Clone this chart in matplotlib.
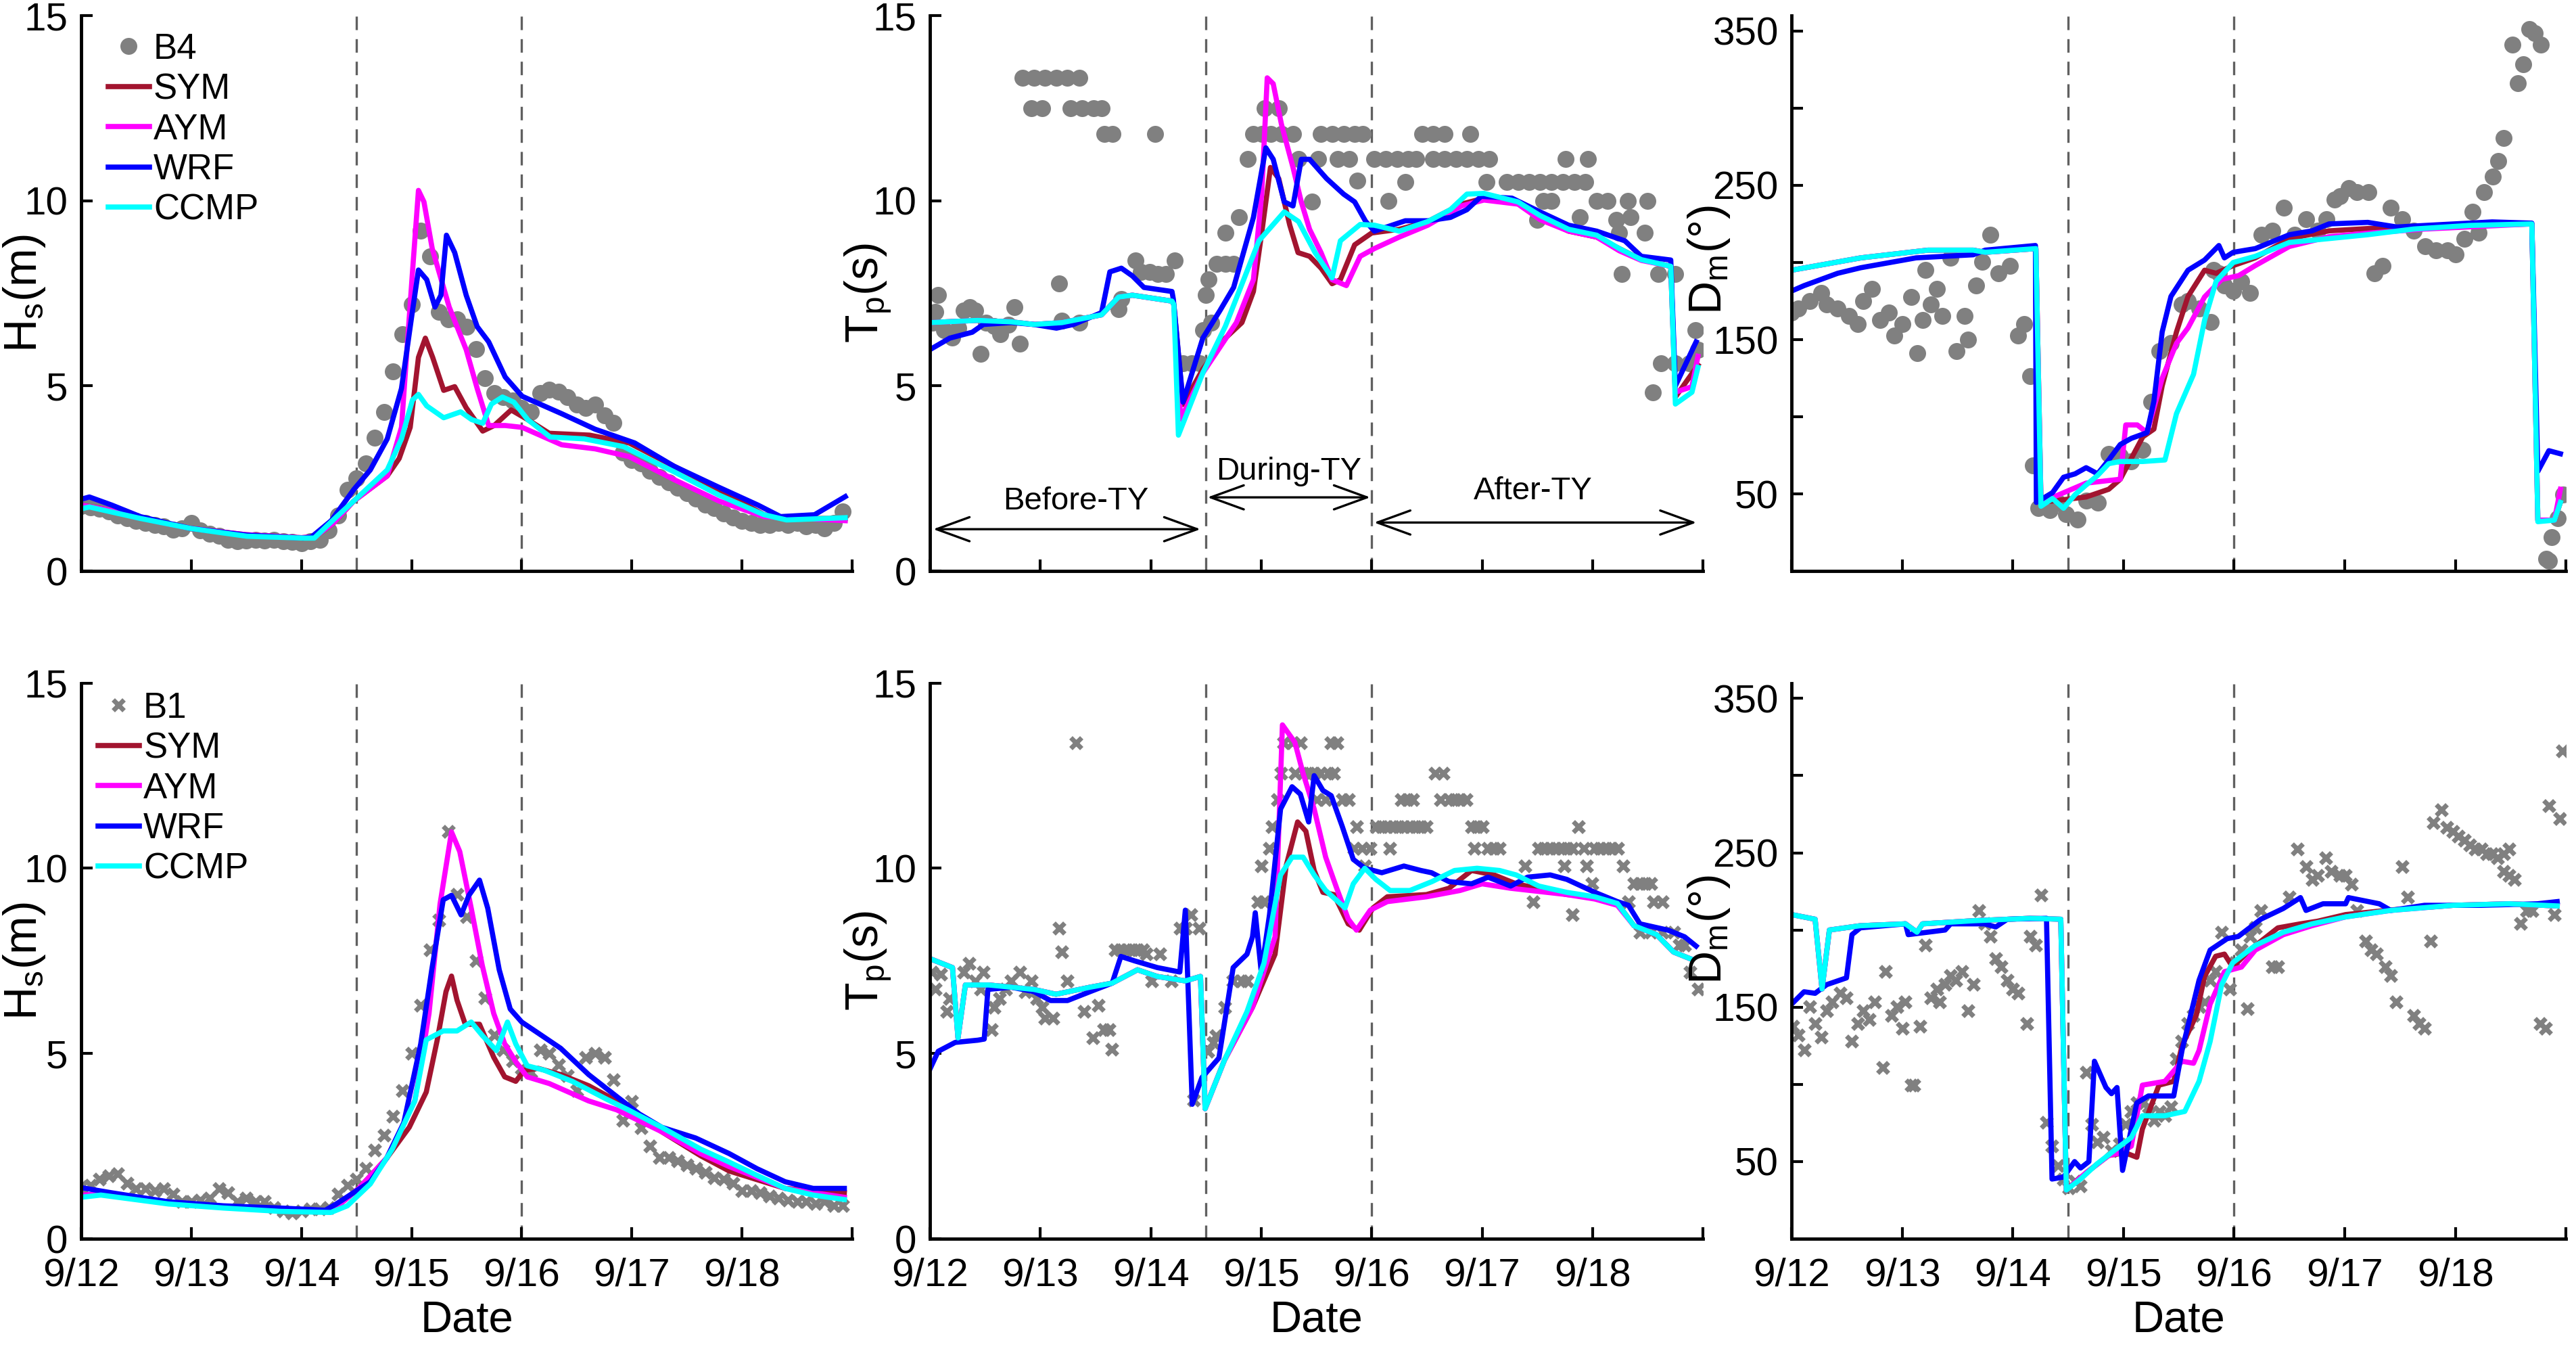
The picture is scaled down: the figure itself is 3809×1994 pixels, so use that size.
import numpy as np
import matplotlib.pyplot as plt

plt.rcParams['font.family'] = ['Liberation Sans', 'DejaVu Sans']
plt.rcParams['mathtext.default'] = 'regular'

# time axis: hours after 9/12 00:00
day_ticks = [0, 24, 48, 72, 96, 120, 144, 168]
day_labels = ['9/12', '9/13', '9/14', '9/15', '9/16', '9/17', '9/18', '']
ty_lines = [60, 96]  # typhoon start / end

c_obs = '#808080'
c_sym = '#A2142F'
c_aym = '#FF00FF'
c_wrf = '#0000FF'
c_ccmp = '#00FFFF'

## ---------------- B4 : Hs ----------------
hs_b4 = [1.75, 1.72, 1.68, 1.6, 1.5, 1.42, 1.35, 1.3, 1.25, 1.2,
         1.12, 1.15, 1.3, 1.1, 1.0, 0.95, 0.85, 0.8, 0.82, 0.85,
         0.82, 0.85, 0.8, 0.78, 0.75, 0.8, 0.85, 1.1, 1.5, 2.2,
         2.5, 2.9, 3.6, 4.3, 5.4, 6.4, 7.2, 9.2, 8.5, 7.0,
         6.8, 6.8, 6.6, 6.0, 5.2, 4.8, 4.7, 4.6, 4.4, 4.3,
         4.8, 4.9, 4.85, 4.7, 4.5, 4.4, 4.5, 4.2, 4.0, 3.2,
         3.0, 2.9, 2.7, 2.55, 2.4, 2.25, 2.1, 1.95, 1.8, 1.7,
         1.55, 1.45, 1.35, 1.3, 1.25, 1.25, 1.3, 1.25, 1.3, 1.2,
         1.25, 1.15, 1.3, 1.6]
hs_b4_t = np.arange(0, 168, 2)

hs4_sym_t = [0, 6, 12, 24, 36, 48, 51, 55, 59.4, 66.7, 69.3, 71.7, 73.5, 75, 76.6, 79, 81.4, 83.9, 87.5, 90,
             93.7, 97.3, 102, 110.8, 119.4, 129.2, 139, 148.8, 153.7, 166.5]
hs4_sym = [1.78, 1.65, 1.45, 1.15, 0.98, 0.9, 0.93, 1.3, 1.89, 2.57, 3.04, 3.88, 5.77, 6.29, 5.77, 4.88, 4.98, 4.41,
           3.78, 3.93, 4.35, 4.09, 3.72, 3.67, 3.46, 2.83, 2.2, 1.52, 1.42, 1.42]
hs4_aym_t = [0, 6, 12, 24, 36, 48, 51, 55, 59.4, 66.7, 69.8, 72.2, 73.5, 74.7, 76.5, 80.2, 83.9, 86.3, 88.8, 92.4,
             96.1, 104.7, 112, 119.4, 129.2, 139, 148.8, 166.5]
hs4_aym = [1.78, 1.65, 1.45, 1.15, 0.98, 0.9, 0.93, 1.3, 1.89, 2.57, 3.88, 8.08, 10.28, 9.97, 8.71, 7.13, 5.98, 4.93,
           3.93, 3.93, 3.88, 3.41, 3.3, 3.09, 2.47, 1.89, 1.47, 1.36]
hs4_wrf_t = [0, 1.8, 6.7, 12.9, 23.9, 36, 48.4, 50.2, 54.5, 59.4, 63, 66.7, 69.8, 72.2, 73.5, 75.3, 77.1, 78.4, 79.6,
             81.4, 83.9, 86.3, 88.8, 92.4, 96.1, 104.7, 112, 120.6, 129.2, 139, 147.5, 152.4, 159.8, 166.5]
hs4_wrf = [1.94, 2.0, 1.78, 1.47, 1.15, 0.97, 0.89, 0.92, 1.36, 2.2, 2.73, 3.57, 4.93, 7.03, 8.13, 7.87, 7.13, 7.45,
           9.07, 8.6, 7.45, 6.6, 6.19, 5.24, 4.72, 4.25, 3.83, 3.46, 2.83, 2.26, 1.78, 1.47, 1.52, 2.01]
hs4_ccmp_t = [0, 1.8, 12.9, 23.9, 36.1, 48.4, 50.8, 55.7, 59.4, 66.7, 69.8, 72.2, 73.5, 75.3, 79, 82.7, 85.1, 87.5,
              89.4, 91.8, 94.3, 97.3, 102.2, 109.6, 118.2, 129.2, 139, 148.8, 153.7, 166.5]
hs4_ccmp = [1.68, 1.73, 1.42, 1.15, 0.94, 0.89, 0.89, 1.47, 1.89, 2.73, 3.57, 4.62, 4.77, 4.46, 4.14, 4.3, 4.09, 3.99,
            4.51, 4.7, 4.56, 4.09, 3.62, 3.57, 3.36, 2.68, 2.05, 1.52, 1.38, 1.44]

## ---------------- B4 : Tp ----------------
tp_b4_t = [0, 0.6, 1.2, 1.8, 3.1, 4.9, 6.1, 7.3, 8.6, 9.8, 11, 12.2, 14, 15.3, 17, 18.3, 19.6,
           20.2, 22.6, 25, 27.5, 29.9, 32.4, 22, 24.4, 30.6, 33, 35.5, 37.3, 37.9, 39.7, 48.9,
           28.1, 28.7, 32.4, 41, 41.6, 44.6, 45.8, 47.7, 49.5, 51.3, 53.2,
           55, 56.8, 58.7, 59.3, 59.9, 60.5,
           61.1, 62.3, 64.2, 66, 64.2, 67.2, 69.1, 70.3, 72.1, 74, 76.4, 78.9, 72.7, 75.8, 80.1, 83.1,
           85, 87.4, 89.9, 92.3, 94.1, 84.4, 88.6, 91.1, 92.9,
           96.6, 99, 101.5, 103.9, 105.7, 99.6, 103.3, 107, 109.4, 111.9, 117.4, 109.4, 111.9, 114.3,
           116.7, 119.2, 121.6, 121, 125.3, 127.8, 130.2, 132.6, 135.1, 137.5, 140, 142.4, 138.1, 143,
           132, 133.3, 135.1, 141.2, 144.9, 147.3, 149.1, 149.8, 151.6, 152.2, 155.9, 155.3,
           150.4, 158.3, 162, 157.1, 158.9, 162, 165, 166.9, 166.3]
tp_b4 = [6.9, 6.7, 7.0, 7.45, 6.5, 6.3, 6.56, 7.03, 7.13, 7.03, 5.87, 6.71, 6.61, 6.4, 6.66, 7.13, 6.14,
         13.32, 13.32, 13.32, 13.32, 13.32, 13.32, 12.5, 12.5, 12.5, 12.5, 12.5, 12.5, 11.8, 11.8, 11.8,
         7.76, 6.77, 6.71, 7.08, 7.34, 8.39, 8.08, 8.08, 8.03, 8.03, 8.39,
         5.61, 5.61, 5.61, 6.5, 7.45, 7.87,
         6.71, 8.29, 8.29, 8.29, 9.13, 9.55, 11.12, 11.8, 11.8, 11.8, 11.8, 11.8, 12.5, 12.5, 11.12, 9.97,
         11.8, 11.8, 11.8, 11.8, 11.8, 11.12, 11.12, 11.12, 10.54,
         11.12, 11.12, 11.12, 11.12, 11.12, 9.99, 10.51, 11.8, 11.8, 11.8, 11.8, 11.12, 11.12, 11.12,
         11.12, 11.12, 11.12, 10.51, 10.51, 10.51, 10.51, 10.51, 10.51, 10.51, 10.51, 10.51, 11.12, 11.12,
         9.49, 9.99, 9.99, 9.55, 9.99, 9.99, 9.49, 9.13, 9.99, 9.55, 9.99, 9.13,
         8.03, 8.03, 8.03, 4.83, 5.61, 5.61, 5.61, 5.98, 6.5]

tp4_sym_t = [0, 10.4, 17.7, 22.6, 28.7, 37.3, 41, 44, 52.6, 53, 55, 59.3, 64.2, 67.8, 70.3, 72.1, 74, 75.8, 78.2,
             80, 82.5, 85, 87.4, 89.2, 92.3, 96, 102, 108.2, 115.5, 120.4, 127.8, 132.6, 138.8, 144.9, 149.8,
             154.6, 161, 162, 166.9]
tp4_sym = [6.71, 6.77, 6.73, 6.66, 6.71, 6.92, 7.4, 7.45, 7.29, 7.2, 4.5, 5.45, 6.29, 6.71, 7.55, 9.13, 10.9, 10.6,
           9.34, 8.6, 8.5, 8.18, 7.76, 7.87, 8.81, 9.13, 9.23, 9.44, 9.91, 10.07, 9.97, 9.55, 9.18, 9.02, 8.71,
           8.41, 8.23, 4.7, 5.56]
tp4_aym_t = [0, 10.4, 17.7, 22.6, 28.7, 37.3, 41, 44, 52.6, 53, 54.5, 59.3, 66.6, 70.3, 72.1, 73.3, 74.6, 76.4,
             78.9, 80.7, 82.5, 85, 87.4, 90.5, 93.5, 96.6, 102, 108.2, 115.5, 120.4, 127.8, 132.6, 138.8, 144.9,
             149.8, 154.6, 161, 162, 165.6, 166.9]
tp4_aym = [6.71, 6.77, 6.73, 6.66, 6.71, 6.92, 7.4, 7.45, 7.29, 7.2, 4.1, 5.35, 6.71, 7.87, 10.18, 13.32, 13.16,
           12.06, 10.9, 9.97, 9.23, 8.6, 7.87, 7.71, 8.5, 8.71, 9.02, 9.34, 9.86, 10.02, 9.91, 9.49, 9.18, 9.02,
           8.65, 8.39, 8.23, 4.83, 4.98, 5.8]
tp4_wrf_t = [0, 4.3, 9.2, 11.6, 17.7, 22.6, 27.5, 31.2, 37.3, 39.1, 41.6, 44, 46.5, 52.6, 52.9, 55, 59.3, 63, 66,
             70.3, 73, 74.6, 77, 78.9, 80.7, 82.5, 86.2, 89.9, 92.3, 94.7, 96.6, 103.3, 108.2, 113.1, 116.7, 119.8,
             126.5, 132.6, 138.8, 144.9, 151, 154.6, 161, 162, 166.5]
tp4_wrf = [5.98, 6.29, 6.45, 6.66, 6.71, 6.66, 6.56, 6.66, 6.98, 8.08, 8.18, 7.97, 7.66, 7.55, 7.34, 4.56, 6.29,
           7.03, 7.66, 9.55, 11.43, 11.12, 9.97, 9.86, 11.12, 11.12, 10.6, 10.18, 9.97, 9.44, 9.18, 9.46, 9.46,
           9.55, 9.76, 10.12, 10.07, 9.7, 9.34, 9.18, 8.92, 8.5, 8.4, 5.0, 6.19]
tp4_ccmp_t = [0, 10.4, 17.7, 22.6, 28.7, 37.3, 41, 44, 52.6, 53, 54, 59.3, 64.2, 71.5, 77, 80.1, 83.7, 87.4, 89.2,
              93.5, 96.6, 102, 108.2, 113.1, 116.7, 120.4, 127.8, 132.6, 138.8, 144.9, 149.8, 154.6, 161, 162,
              165.6, 166.9]
tp4_ccmp = [6.71, 6.77, 6.73, 6.66, 6.71, 6.92, 7.4, 7.45, 7.29, 7.2, 3.67, 5.35, 6.61, 8.92, 9.7, 9.44, 8.6, 7.92,
            8.92, 9.36, 9.34, 9.18, 9.44, 9.76, 10.18, 10.2, 9.97, 9.6, 9.23, 9.07, 8.71, 8.41, 8.23, 4.51, 4.83, 5.5]

## ---------------- B4 : Dm ----------------
dm_b4_t = [0, 1.5, 3.9, 6.4, 7.6, 10, 12.5, 14.3, 15.6, 17.4, 19.2, 21.1, 22.3, 24.1, 26, 27.2, 28.4, 29, 30.2,
           31.5, 32.7, 34.5, 35.8, 37.6, 38.2, 40, 41.3, 43.1, 44.9, 47.4, 49.2, 50.4, 51.7, 52.3, 53.5, 56,
           57.8, 59.6, 62.1, 63.9, 66.4, 68.8, 71.3, 73.7, 76.2, 78, 79.8, 82.3, 84.7, 86, 88.4, 90.9, 91.5,
           92.7, 93.9, 95.8, 97.6, 99.4, 101.9, 104.3, 106.8, 109.2, 111.7, 114.1, 116, 117.8, 119, 120.9,
           122.7, 125.1, 126.4, 128.2, 130, 132.5, 134.9, 137.4, 139.8, 142.3, 144.1, 146, 147.8, 149, 150.2,
           152.1, 153.3, 154.5, 156.4, 157.6, 158.8, 160, 161.3, 162.5, 163.7, 164.9, 166.2, 167.4, 164.3]
dm_b4 = [167.7, 170.2, 175.2, 180.2, 172.7, 170.2, 165.2, 160.1, 175.2, 182.8, 162.6, 167.7, 152.6, 160.1, 177.7,
         141.3, 162.6, 195.3, 172.7, 182.8, 165.2, 202.9, 142.5, 165.2, 150.1, 185.3, 200.4, 218, 192.8, 197.9,
         152.6, 160.1, 126.2, 68.4, 40.7, 39.4, 44.5, 36.9, 33.2, 45.7, 44.5, 75.9, 74.6, 70.9, 78.4, 109.8,
         142.5, 147.6, 172.7, 175.2, 170.2, 161.4, 195.3, 192.8, 185.3, 181.5, 187.8, 180.2, 218, 220.5, 235.6,
         218, 228, 220.5, 228, 240.6, 243.1, 248.1, 245.6, 245.6, 192.8, 197.9, 235.6, 228, 220.5, 210.4, 207.9,
         207.9, 205.4, 215.5, 233.1, 219.2, 245.6, 255.7, 265.7, 280.8, 341.2, 316, 328.6, 351.2, 348.7, 341.2,
         8, 21.8, 34.4, 49.5, 6.8]

dm4_sym_t = [0, 15, 29.6, 39.4, 42, 53, 54.1, 63.9, 68.8, 71.3, 76.2, 78.6, 80.4, 83.5, 86, 89.6, 92.1, 95.8,
             100.6, 108, 116.6, 125, 137.4, 160.6, 161.9, 165.5, 166.8]
dm4_sym = [195, 203, 208, 208, 206.6, 209, 44.5, 48, 53, 59.5, 87, 92, 120, 155, 178, 195, 193, 198, 203, 215.5,
           220.5, 222, 223, 225, 33, 33, 44.5]
dm4_aym_t = [0, 15, 29.6, 39.4, 42, 53, 54.1, 63.9, 71.3, 72.5, 75, 77.1, 80.4, 83.5, 86, 89.6, 93.3, 97, 100.6,
             108, 116.6, 125, 137.4, 160.6, 161.9, 165.5, 166.8]
dm4_aym = [195, 203, 208, 208, 206.6, 209, 44.5, 57, 59.5, 94.7, 94.7, 89.7, 125, 147.6, 157.6, 177.7, 189, 191.5,
           198, 210.4, 216.7, 219, 221.7, 225, 33, 33, 53]
dm4_wrf_t = [0, 2.7, 10, 15, 27, 39.4, 42, 52.9, 53.1, 56.6, 59, 61.5, 63.9, 66.4, 68.8, 71.3, 73.7, 77.1, 78.6,
             80.4, 82.3, 86, 89.6, 92.7, 93.9, 95.8, 100.6, 108, 112.9, 116.6, 125, 131.3, 137.4, 152, 160.6,
             161.9, 164.3, 166.8]
dm4_wrf = [181.5, 185, 193, 196.6, 203, 205, 208, 211, 44.5, 50.8, 60.8, 63, 67, 63, 72, 82, 86, 89.7, 110, 155,
           178, 195, 201.6, 211, 203, 206.6, 209, 218, 220.5, 225, 226, 223, 224, 226.3, 225.5, 64.6, 78, 76]
dm4_ccmp_t = [0, 15, 29.6, 39.4, 42, 53, 54.1, 56.6, 59, 61.5, 63.9, 66.4, 68.8, 71.3, 76.2, 81, 83.5, 87.2, 89.6,
              92.1, 95.8, 100.6, 108, 116.6, 125, 135, 147, 160.6, 161.9, 165.5, 166.8]
dm4_ccmp = [195, 203, 208, 208, 206.6, 209, 42, 47, 40.7, 49.5, 55.8, 62, 69.6, 71, 71, 72, 102, 127.5, 162.6,
            187.8, 200, 204, 213, 215.5, 218, 221.7, 224, 225, 32, 33, 44.5]

## ---------------- B1 : Hs ----------------
hs_b1 = [1.4, 1.45, 1.6, 1.7, 1.75, 1.5, 1.35, 1.35, 1.3, 1.35,
         1.2, 1.0, 1.0, 1.05, 1.1, 1.35, 1.25, 1.0, 1.1, 1.0,
         1.0, 0.85, 0.75, 0.7, 0.75, 0.8, 0.8, 0.85, 1.2, 1.45,
         1.6, 1.9, 2.4, 2.8, 3.3, 4.0, 5.0, 6.3, 7.8, 8.6,
         11.0, 9.3, 8.7, 7.5, 6.5, 5.5, 5.1, 4.8, 4.6, 4.5,
         5.1, 5.0, 4.7, 4.4, 4.0, 4.9, 5.0, 4.9, 4.3, 3.2,
         3.7, 3.0, 2.5, 2.2, 2.2, 2.1, 2.0, 1.9, 1.8, 1.65,
         1.6, 1.5, 1.3, 1.3, 1.25, 1.15, 1.1, 1.05, 1.0, 1.0,
         0.95, 1.0, 0.9, 0.9]
hs_b1_t = np.arange(0, 168, 2)

hs1_sym_t = [0, 4.3, 19, 31, 43.4, 54.4, 60.5, 66.6, 71.5, 75.2, 77.6, 79.5, 80.7, 81.9, 83.7, 86.8, 89.9, 92.3,
             94.7, 96.6, 99.6, 104.5, 110.6, 116.7, 126.5, 135, 141.2, 153.4, 166.3]
hs1_sym = [1.18, 1.2, 0.96, 0.85, 0.76, 0.73, 1.36, 2.18, 3.01, 3.96, 5.37, 6.67, 7.09, 6.44, 5.79, 5.79, 4.9, 4.37,
           4.25, 4.55, 4.6, 4.43, 4.13, 3.72, 2.89, 2.24, 1.83, 1.36, 1.24]
hs1_aym_t = [0, 4.3, 19, 31, 43.4, 54.4, 60.5, 66.6, 72.7, 75.8, 78.2, 80.7, 82.5, 85, 87.4, 89.9, 92.3, 94.7,
             97.2, 102, 110.6, 116.7, 126.5, 135, 141.2, 153.4, 166.3]
hs1_aym = [1.18, 1.2, 0.96, 0.85, 0.76, 0.73, 1.36, 2.18, 3.72, 6.08, 9.03, 10.98, 10.45, 8.92, 7.38, 6.08, 5.26,
           4.78, 4.37, 4.19, 3.72, 3.48, 2.89, 2.3, 1.95, 1.36, 1.12]
hs1_wrf_t = [0, 6.7, 19, 31, 43.4, 53.2, 55.6, 59.3, 63, 66.6, 70.3, 74, 76.4, 78.9, 80.7, 82.8, 84.5, 86.8, 88.6,
             91.1, 93.5, 96, 99.6, 104.5, 110.6, 116.7, 121.6, 126.5, 133.9, 141.2, 147.3, 153.4, 159.5, 166.3]
hs1_wrf = [1.38, 1.24, 1.0, 0.89, 0.83, 0.77, 0.94, 1.24, 1.54, 2.18, 3.13, 5.26, 7.26, 9.15, 9.27, 8.74, 9.27,
           9.68, 8.92, 7.26, 6.2, 5.85, 5.55, 5.14, 4.43, 3.84, 3.37, 3.01, 2.72, 2.3, 1.89, 1.54, 1.36, 1.36]
hs1_ccmp_t = [0, 4.3, 19, 31, 43.4, 54.4, 58, 63, 67.8, 72.7, 75.2, 78.9, 81.9, 85, 87.4, 90.5, 92.9, 94.7, 97.2,
              100.9, 107, 114.3, 119.2, 126.5, 135, 141.2, 147.3, 153.4, 159.5, 166.3]
hs1_ccmp = [1.12, 1.18, 0.94, 0.83, 0.74, 0.71, 0.89, 1.48, 2.42, 3.72, 5.37, 5.61, 5.61, 5.85, 5.49, 5.08, 5.85,
            5.26, 4.67, 4.55, 4.25, 3.78, 3.48, 3.01, 2.42, 2.07, 1.71, 1.36, 1.18, 1.06]

## ---------------- B1 : Tp ----------------
tp_b1_t = [0.4, 1.2, 2.4, 3.7, 4.3, 7.3, 8.5, 9.8, 11, 11.6, 13.4, 14, 15.2, 16.5, 17.7, 19.5, 20.7, 22, 23.2,
           24.4, 25, 26.8, 28, 28.7, 29.9, 31.7, 33.5, 35.4, 36.6, 37.8, 39, 39.6, 40.2, 41.5, 42.7, 43.9, 45.1,
           46.3, 47, 48.2, 50, 52.4, 54.3, 55.5, 56.7, 58.5, 57.3, 60.4, 61.6, 62.2, 64, 65.9, 67.7, 68.9,
           71.3, 72, 72.6, 73.8, 74.4, 75.6, 76.2, 76.8, 78.7, 80.5, 79.3, 81.1, 82.3, 83.5, 84.8, 86.6, 87.8,
           87.2, 88.4, 84.1, 86, 89.6, 90.9, 92.7, 92.1, 93.9, 94.5, 95.7, 97, 98.2, 99.4, 100.6, 101.8, 103,
           104.3, 105.5, 106.7, 107.9, 100, 102.4, 103.7, 104.9, 109.8, 111.6, 111, 112.8, 114, 115.2, 116.5,
           117.7, 118.9, 120.1, 118.3, 121.3, 122.6, 123.8, 129.3, 131.1, 132.3, 133.5, 134.8, 136, 137.2,
           138.4, 139.6, 140.9, 142.1, 137.8, 139.6, 142.7, 143.9, 144.5, 145.7, 147, 148.2, 149.4, 150.6,
           151.8, 153, 154.3, 155.5, 156.7, 157.3, 159.1, 154.3, 156.7, 159.1, 161.6, 162.8, 164, 165.2, 167]
tp_b1 = [7.2, 6.73, 7.14, 6.13, 6.49, 7.2, 7.44, 6.96, 6.73, 7.2, 5.65, 6.25, 6.49, 6.73, 6.96, 7.2, 6.67, 6.96,
         6.49, 6.25, 5.95, 5.95, 8.39, 7.74, 6.96, 13.39, 6.13, 5.42, 6.31, 5.65, 5.65, 5.12, 7.8, 7.8, 7.8, 7.8,
         7.8, 7.8, 7.68, 6.96, 7.68, 6.96, 8.39, 8.39, 8.75, 8.39, 3.75, 5.06, 5.3, 5.48, 6.25, 6.96, 6.96, 6.96,
         9.1, 10.06, 9.1, 10.54, 11.13, 11.85, 12.56, 13.39, 13.39, 13.39, 12.56, 12.56, 12.56, 12.56, 12.56,
         12.56, 12.56, 13.39, 13.39, 11.85, 11.85, 11.85, 11.85, 11.13, 10.54, 10.54, 10.06, 10.54, 11.13,
         11.13, 11.13, 11.13, 11.13, 11.13, 11.13, 11.13, 11.13, 11.13, 10.54, 11.85, 11.85, 11.85, 12.56,
         12.56, 11.85, 11.85, 11.85, 11.85, 11.85, 11.13, 11.13, 11.13, 10.54, 10.54, 10.54, 10.54, 10.06, 9.1,
         10.54, 10.54, 10.54, 10.54, 10.54, 10.54, 10.54, 11.13, 10.54, 10.06, 8.75, 10.06, 9.58, 10.54, 10.54,
         10.54, 10.54, 10.54, 10.06, 9.1, 9.58, 9.58, 9.58, 9.58, 9.1, 9.1, 8.27, 8.27, 8.27, 8.27, 7.92, 7.92,
         7.2, 6.73]

tp1_sym_t = [0, 4.9, 6.1, 7.7, 12.8, 22.6, 27.4, 34.8, 39.6, 45.1, 49.4, 55.5, 58.8, 59.8, 64, 70.1, 75, 77.4,
             79.9, 81.7, 83.5, 85.4, 87.8, 90.9, 93.3, 96.3, 99.4, 107.9, 112.8, 117.7, 122.6, 127.4, 138.4,
             144.5, 149.4, 153, 157.9, 161.6, 165.2]
tp1_sym = [7.56, 7.32, 5.42, 6.85, 6.85, 6.73, 6.6, 6.79, 6.9, 7.26, 7.08, 6.96, 7.08, 3.51, 4.82, 6.25, 7.68,
           10.06, 11.25, 11.0, 9.94, 9.35, 9.29, 8.5, 8.33, 8.93, 9.23, 9.29, 9.46, 9.94, 9.82, 9.58, 9.29, 9.23,
           9.05, 8.45, 8.21, 7.74, 7.56]
tp1_aym_t = [0, 4.9, 6.1, 7.7, 12.8, 22.6, 27.4, 34.8, 39.6, 45.1, 49.4, 55.5, 58.8, 59.8, 64, 70.1, 75, 76.6,
             79.3, 81.1, 83.5, 86, 88.4, 90.9, 92.7, 95.7, 99.4, 107.9, 115.2, 120, 126.2, 138.4, 144.5, 149.4,
             153, 157.9, 161.6, 165.2]
tp1_aym = [7.56, 7.32, 5.42, 6.85, 6.85, 6.73, 6.6, 6.79, 6.9, 7.26, 7.08, 6.96, 7.08, 3.51, 4.82, 6.25, 8.15,
           13.87, 13.4, 12.56, 11.6, 10.3, 9.46, 8.63, 8.33, 8.87, 9.1, 9.23, 9.4, 9.58, 9.46, 9.29, 9.17, 9.0,
           8.45, 8.21, 7.74, 7.56]
tp1_wrf_t = [0, 1.8, 5.5, 10.4, 11.8, 12.6, 17.7, 22.6, 26.2, 29.9, 34.8, 39.6, 41.5, 44.5, 49.4, 54.3, 55.5, 57,
             59.1, 62.8, 65.9, 68.9, 70.1, 70.7, 72, 73.8, 76.2, 78.7, 80.5, 82.3, 83.5, 85.4, 87.2, 89.6, 92,
             94.5, 98.2, 103, 106.7, 109, 112.8, 117.7, 121.3, 126.2, 129.9, 134.8, 138.4, 144.5, 149.4, 151.8,
             154.3, 160.4, 164, 166.5]
tp1_wrf = [4.58, 5.06, 5.3, 5.36, 5.39, 6.73, 6.79, 6.67, 6.43, 6.43, 6.67, 6.9, 7.62, 7.5, 7.32, 7.2, 8.87, 3.63,
           4.35, 4.88, 7.32, 7.68, 8.15, 8.8, 7.2, 8.75, 11.6, 12.2, 12.0, 11.25, 12.5, 12.1, 11.96, 11.13, 10.24,
           10.0, 9.88, 10.06, 9.94, 9.88, 9.64, 9.58, 9.76, 9.52, 9.76, 9.82, 9.7, 9.35, 9.1, 9.0, 8.5, 8.33,
           8.15, 7.9]
tp1_ccmp_t = [0, 4.9, 6.1, 7.7, 12.8, 22.6, 27.4, 34.8, 39.6, 45.1, 49.4, 55.5, 58.8, 59.8, 64, 68.9, 72.6, 76.2,
              78.7, 81.1, 83.5, 86, 90.2, 92, 94.5, 96.9, 100, 104.3, 109.1, 114, 118.9, 123.8, 127.4, 132.3,
              138.4, 144.5, 149.4, 153, 157.9, 161.6, 165.2]
tp1_ccmp = [7.56, 7.32, 5.42, 6.85, 6.85, 6.73, 6.6, 6.79, 6.9, 7.26, 7.08, 6.96, 7.08, 3.51, 4.82, 6.13, 7.44,
            9.82, 10.3, 10.3, 9.82, 9.4, 8.93, 9.58, 10.0, 9.7, 9.4, 9.4, 9.64, 9.94, 10.0, 9.94, 9.82, 9.52, 9.35,
            9.23, 9.05, 8.45, 8.21, 7.74, 7.56]

## ---------------- B1 : Dm ----------------
dm_b1_t = [0.2, 1.5, 2.7, 3.9, 5.1, 6.4, 7.6, 8.8, 10.6, 11.9, 13.1, 14.3, 15.5, 16.8, 18, 19.8, 20.4, 21.7, 22.9,
           24.1, 24.7, 25.9, 26.6, 27.8, 29, 30.2, 31.5, 32.1, 33.3, 34.5, 35.7, 37, 38.2, 39.4, 40.6, 41.9,
           43.1, 44.3, 45.5, 46.8, 48, 49.2, 51, 51.7, 52.9, 54.1, 55.3, 56.5, 57.8, 59, 60.2, 61.4, 62.7, 63.9,
           65.1, 66.3, 67.6, 69.4, 71.2, 72.5, 73.7, 74.9, 76.1, 77.4, 78.6, 79.8, 81, 82.3, 83.5, 84.7, 85.9,
           87.1, 88.4, 89.6, 90.8, 92, 93.3, 95.1, 96.3, 97.6, 98.8, 99.4, 100.6, 101.8, 104.3, 105.5, 108,
           109.8, 111.6, 112.9, 114.1, 115.9, 117.1, 119, 120.2, 121.4, 122.6, 124.5, 125.7, 126.9, 128.8, 130,
           131.2, 132.4, 133.7, 134.9, 136.1, 137.3, 138.6, 139.2, 141, 142.2, 143.5, 144.7, 145.9, 147.1,
           148.3, 149.6, 150.8, 152, 153.2, 154.5, 155.7, 154.5, 155.7, 156.9, 158.1, 159.4, 160.6, 162.4,
           163.6, 164.3, 165.5, 166.7, 167.3]
dm_b1 = [137.7, 132.1, 122.2, 150.5, 139.2, 130.7, 147.6, 153.3, 159, 156.1, 127.8, 139.2, 147.6, 142, 153.3,
         110.9, 173.1, 144.8, 150.5, 136.3, 153.3, 99.5, 99.5, 137.7, 190.1, 156.1, 161.8, 153.3, 164.6, 170.3,
         167.5, 173.1, 147.6, 164.6, 212.7, 204.3, 195.8, 181.6, 176, 167.5, 161.8, 159, 139.2, 195.8, 190.1,
         222.7, 75.5, 59.9, 47.2, 38.7, 33, 37.3, 34.4, 108, 74.1, 62.7, 65.6, 57.1, 61.3, 74.1, 82.5, 88.2,
         88.2, 85.4, 76.9, 82.5, 79.7, 85.4, 116.5, 127.8, 139.2, 144.8, 150.5, 153.3, 167.5, 173.1, 198.6,
         161.8, 178.8, 187.3, 149.1, 195.8, 201.4, 212.7, 176, 176, 221.2, 252.4, 241.1, 232.6, 235.4, 246.7,
         238.2, 235.4, 235.4, 229.7, 212.7, 192.9, 187.3, 184.4, 176, 170.3, 153.3, 241.1, 221.2, 144.8, 139.2,
         136.3, 192.9, 269.4, 277.9, 266.5, 263.7, 260.9, 258, 255.2, 252.4, 252.4, 249.5, 249.5, 246.7, 249.5,
         252.4, 238.2, 235.4, 232.6, 204.3, 212.7, 212.7, 139.2, 136.3, 280.7, 209.9, 272.2, 316.1]

dm1_sym_t = [0, 5.1, 6.6, 8.2, 14.9, 24.7, 27.2, 28.4, 39.4, 51.7, 58.4, 59.6, 64, 68.8, 72.4, 74.9, 76.1, 79.7,
             82.9, 84.7, 87.8, 89.6, 92, 93.9, 95.7, 99.4, 105.5, 110.4, 114.1, 120.2, 130, 143.5, 155.7, 166.1]
dm1_sym = [210, 207, 161.8, 200, 202.8, 204, 198.6, 204, 206, 207.6, 207, 31.6, 43, 54, 55.7, 52.8, 71, 99.5,
           102, 125, 144.8, 170, 183, 184.4, 176, 187, 201.4, 204, 205.7, 210, 213, 216, 217, 215.6]
dm1_aym_t = [0, 5.1, 6.6, 8.2, 14.9, 24.7, 27.2, 28.4, 39.4, 51.7, 58.4, 59.6, 64, 68.8, 71.2, 73.7, 76.1, 81,
             84.7, 87.2, 88.4, 90.8, 93.9, 97.6, 100.6, 106.7, 112.9, 120.2, 130, 143.5, 155.7, 166.1]
dm1_aym = [210, 207, 161.8, 200, 202.8, 204, 198.6, 204, 206, 207.6, 207, 31.6, 43, 54, 55.5, 60, 99.5, 102, 115,
           113.7, 122, 152, 173, 176, 187, 197, 202.8, 208.5, 212.7, 216, 217, 215.6]
dm1_wrf_t = [0, 2.7, 5.1, 7.6, 11.9, 13.1, 14.9, 24.7, 25.3, 33.3, 34.5, 41.9, 44.3, 46.8, 55.3, 56.5, 59, 61.4,
             62.7, 64.5, 65.7, 68.2, 69.4, 70.6, 71.8, 74.9, 77.4, 82.9, 84.7, 88.4, 90.8, 94.5, 96.9, 101.8,
             106.7, 110.4, 111.6, 115.3, 120.2, 120.8, 127.5, 130, 137.3, 149.6, 161.8, 166.1]
dm1_wrf = [152, 160, 159, 164.6, 169, 197, 201.4, 204, 197, 200, 204, 204, 202, 207, 207.6, 38.7, 40, 50, 45.8,
           50, 115, 98, 94, 98, 44.3, 88, 92.5, 92.5, 122, 167.5, 187, 194.4, 195.8, 207, 214, 221, 212.7, 217,
           217, 221, 217, 212.7, 216, 216, 217, 218.4]
dm1_ccmp_t = [0, 5.1, 6.6, 8.2, 14.9, 24.7, 27.2, 28.4, 39.4, 51.7, 58.4, 59.6, 62.7, 66.3, 71.2, 73.7, 76.1, 81,
              85.3, 88.4, 90.8, 93.3, 95.7, 100.6, 106.7, 112.9, 120.2, 130, 143.5, 155.7, 166.1]
dm1_ccmp = [210, 207, 161.8, 200, 202.8, 204, 198.6, 204, 206, 207.6, 207, 31.6, 38.7, 48.6, 60, 65.6, 79.7, 79.7,
            82.5, 102, 127.8, 164.6, 178.8, 190, 198.6, 204, 208.5, 212.7, 216, 217, 215.6]

## ---------------- figure ----------------
fig = plt.figure(figsize=(38.09, 19.94), dpi=100)
col_left = [0.0315, 0.361, 0.6955]
col_w = [0.2993, 0.3001, 0.3006]
row_bot = [0.5767, 0.0817]
row_h = [0.4117, 0.412]

axs = [[fig.add_axes([col_left[c], row_bot[r], col_w[c], row_h[r]]) for c in range(3)] for r in range(2)]

def style_axis(ax, ylim, yticks, ylabels, ylabel, lab_x, lab_y, bottom):
    ax.set_xlim(0, 168)
    ax.set_ylim(ylim)
    ax.set_xticks(day_ticks)
    ax.set_xticklabels(day_labels if bottom else [])
    ax.set_yticks(yticks)
    ax.set_yticklabels(ylabels)
    for s in ['top', 'right']:
        ax.spines[s].set_visible(False)
    for s in ['left', 'bottom']:
        ax.spines[s].set_linewidth(3.5)
    ax.tick_params(direction='in', length=12, width=3, labelsize=42)
    ax.tick_params(axis='x', pad=20)
    ax.tick_params(axis='y', pad=14)
    ax.set_ylabel(ylabel, fontsize=49)
    ax.yaxis.set_label_coords(lab_x, lab_y)
    if bottom:
        ax.set_xlabel('Date', fontsize=47, labelpad=6)
    for x in ty_lines:
        ax.axvline(x, color='#606060', lw=2.4, ls=(0, (6, 4)), zorder=0.5)

def draw_models(ax, series):
    hl = []
    for t, v, c in series:
        hl.append(ax.plot(t, v, color=c, lw=5.5, solid_joinstyle='round')[0])
    return hl

obs_o = dict(ls='none', marker='o', ms=18, color=c_obs, mec='none')
obs_x = dict(ls='none', marker='x', ms=12, mew=5, color=c_obs)
leg_kw = dict(loc='upper left', frameon=False, fontsize=38, handlelength=1.15, handletextpad=0.12,
              labelspacing=0.18, borderaxespad=0, borderpad=0)

# --- row 1 (B4)
ax = axs[0][0]
h_obs = ax.plot(hs_b4_t, hs_b4, **obs_o)[0]
hl = draw_models(ax, [(hs4_sym_t, hs4_sym, c_sym), (hs4_aym_t, hs4_aym, c_aym),
                      (hs4_wrf_t, hs4_wrf, c_wrf), (hs4_ccmp_t, hs4_ccmp, c_ccmp)])
style_axis(ax, (0, 15), [0, 5, 10, 15], ['0', '5', '10', '15'], 'H$_s$(m)', -0.044, 0.5, False)
ax.legend([h_obs] + hl, ['B4', 'SYM', 'AYM', 'WRF', 'CCMP'], bbox_to_anchor=(0.035, 0.97), **leg_kw)

ax = axs[0][1]
ax.plot(tp_b4_t, tp_b4, **obs_o)
draw_models(ax, [(tp4_sym_t, tp4_sym, c_sym), (tp4_aym_t, tp4_aym, c_aym),
                 (tp4_wrf_t, tp4_wrf, c_wrf), (tp4_ccmp_t, tp4_ccmp, c_ccmp)])
style_axis(ax, (0, 15), [0, 5, 10, 15], ['0', '5', '10', '15'], 'T$_p$(s)', -0.047, 0.5, False)
arrow = dict(arrowstyle='<->,head_length=1.1,head_width=0.4', lw=2.4, color='black', shrinkA=0, shrinkB=0,
             mutation_scale=32)
ax.annotate('', xy=(0.7, 1.13), xytext=(58.8, 1.13), arrowprops=arrow)
ax.annotate('', xy=(60.3, 1.99), xytext=(95.7, 1.99), arrowprops=arrow)
ax.annotate('', xy=(96.5, 1.31), xytext=(166.6, 1.31), arrowprops=arrow)
ax.text(31.7, 1.89, 'Before-TY', fontsize=34, ha='center', va='center')
ax.text(78, 2.68, 'During-TY', fontsize=34, ha='center', va='center')
ax.text(131, 2.15, 'After-TY', fontsize=34, ha='center', va='center')

ax = axs[0][2]
ax.plot(dm_b4_t, dm_b4, **obs_o)
draw_models(ax, [(dm4_sym_t, dm4_sym, c_sym), (dm4_aym_t, dm4_aym, c_aym),
                 (dm4_wrf_t, dm4_wrf, c_wrf), (dm4_ccmp_t, dm4_ccmp, c_ccmp)])
style_axis(ax, (0, 360), [50, 100, 150, 200, 250, 300, 350], ['50', '', '150', '', '250', '', '350'],
           'D$_m$(°)', -0.077, 0.56, False)

# --- row 2 (B1)
ax = axs[1][0]
h_obs = ax.plot(hs_b1_t, hs_b1, **obs_x)[0]
hl = draw_models(ax, [(hs1_sym_t, hs1_sym, c_sym), (hs1_aym_t, hs1_aym, c_aym),
                      (hs1_wrf_t, hs1_wrf, c_wrf), (hs1_ccmp_t, hs1_ccmp, c_ccmp)])
style_axis(ax, (0, 15), [0, 5, 10, 15], ['0', '5', '10', '15'], 'H$_s$(m)', -0.044, 0.5, True)
ax.legend([h_obs] + hl, ['B1', 'SYM', 'AYM', 'WRF', 'CCMP'], bbox_to_anchor=(0.022, 0.985), **leg_kw)

ax = axs[1][1]
ax.plot(tp_b1_t, tp_b1, **obs_x)
draw_models(ax, [(tp1_sym_t, tp1_sym, c_sym), (tp1_aym_t, tp1_aym, c_aym),
                 (tp1_wrf_t, tp1_wrf, c_wrf), (tp1_ccmp_t, tp1_ccmp, c_ccmp)])
style_axis(ax, (0, 15), [0, 5, 10, 15], ['0', '5', '10', '15'], 'T$_p$(s)', -0.047, 0.5, True)

ax = axs[1][2]
ax.plot(dm_b1_t, dm_b1, **obs_x)
draw_models(ax, [(dm1_sym_t, dm1_sym, c_sym), (dm1_aym_t, dm1_aym, c_aym),
                 (dm1_wrf_t, dm1_wrf, c_wrf), (dm1_ccmp_t, dm1_ccmp, c_ccmp)])
style_axis(ax, (0, 360), [50, 100, 150, 200, 250, 300, 350], ['50', '', '150', '', '250', '', '350'],
           'D$_m$(°)', -0.077, 0.556, True)

fig.savefig('out.png', dpi=100)
